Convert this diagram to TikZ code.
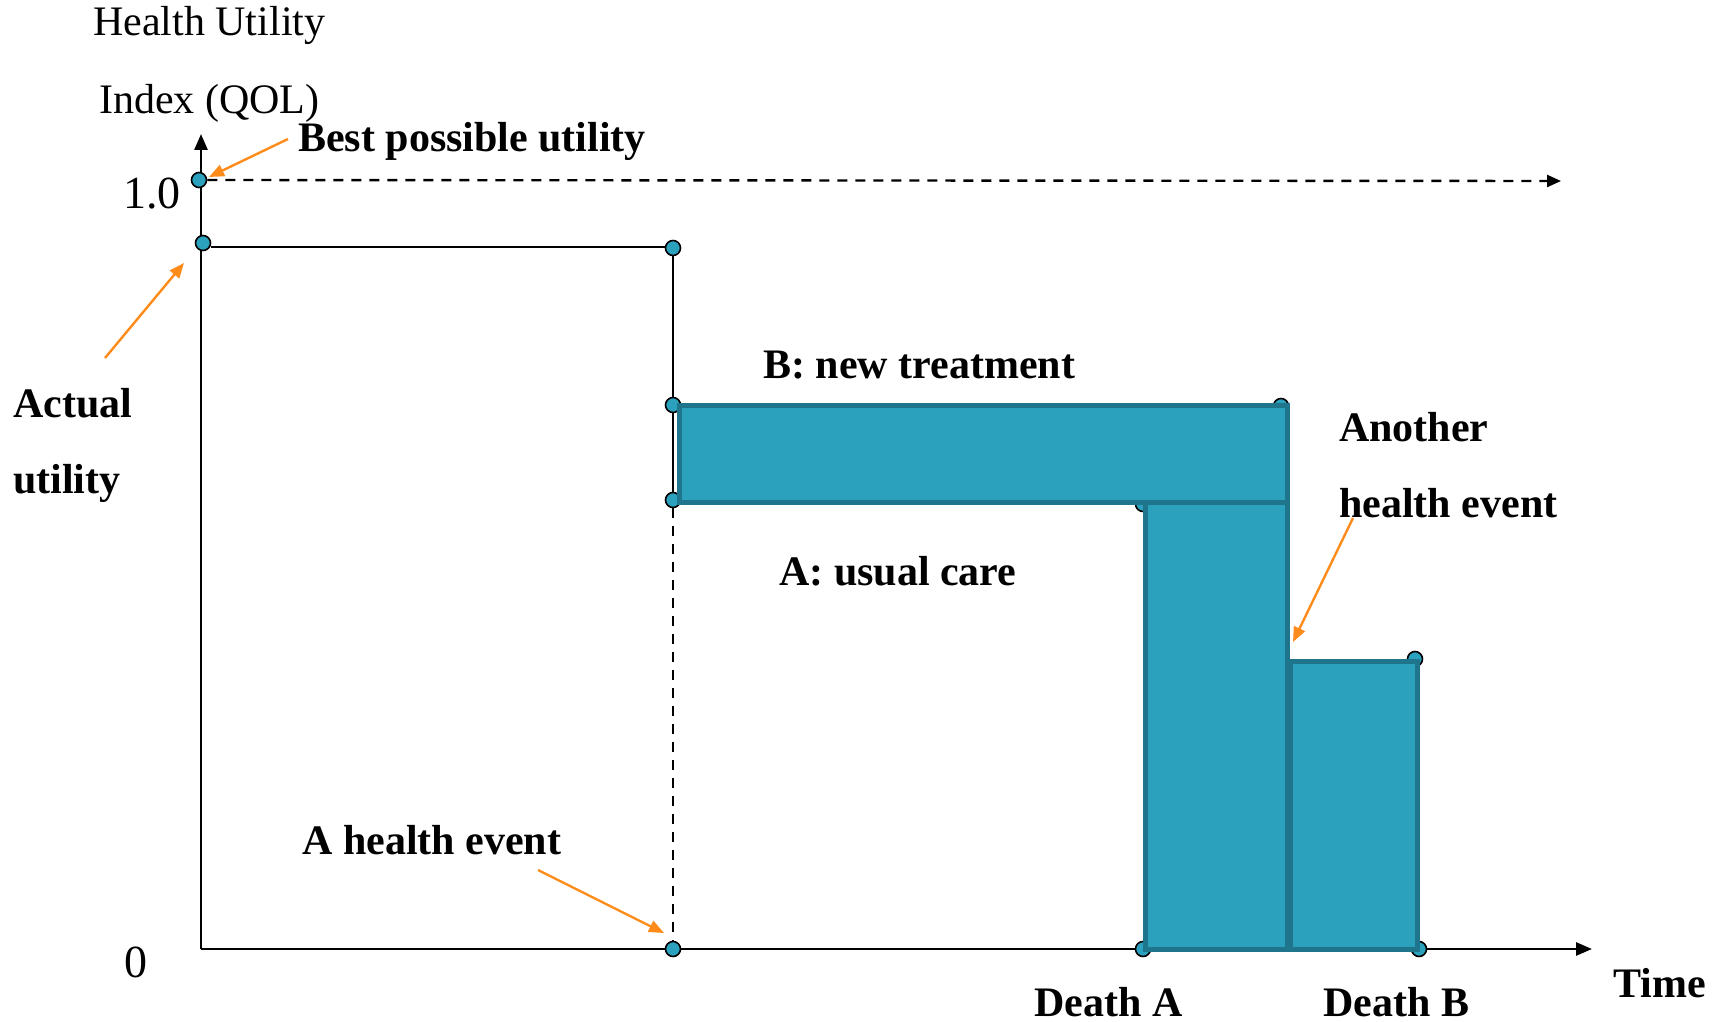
\documentclass[tikz,border=0pt]{standalone}
\usepackage{fontspec}
\setmainfont{Liberation Serif}
\usetikzlibrary{arrows.meta}
\definecolor{barfill}{RGB}{44,161,190}
\definecolor{bardraw}{RGB}{31,118,140}
\definecolor{pointercol}{RGB}{255,140,26}
\begin{document}
\begin{tikzpicture}[x=1pt,y=-1pt,
  dot/.style={circle, draw=black, fill=barfill, line width=1.6pt, inner sep=0pt, minimum size=15pt},
  bar/.style={fill=barfill, draw=bardraw, line width=5pt},
  axis/.style={line width=2.8pt, -{Triangle[length=16pt,width=13pt]}},
  guide/.style={line width=2.6pt},
  dashguide/.style={line width=2.4pt, dash pattern=on 10pt off 8pt},
  pointer/.style={draw=pointercol, line width=2.4pt, -{Triangle[length=15pt,width=12pt]}},
  lbl/.style={font=\fontsize{42}{50}\selectfont\bfseries, anchor=base west, inner sep=0pt},
  plainlbl/.style={font=\fontsize{42}{50}\selectfont, anchor=base west, inner sep=0pt},
  numlbl/.style={font=\fontsize{46}{54}\selectfont, anchor=base west, inner sep=0pt}]
\useasboundingbox[fill=white] (0,0) rectangle (1721,1022);

% coordinates
\coordinate (O) at (201,949);
\coordinate (ytop) at (201,134);
\coordinate (xend) at (1592,949);
\coordinate (dashend) at (1561,181);

% axes
\draw[axis] (O) -- (ytop);
\draw[axis] (O) -- (xend);

% dots
\node[dot] (best) at (199,180) {};
\node[dot] (actual) at (203,243) {};
\node[dot] (eventa) at (673,248) {};
\node[dot] (bhigh) at (673,405) {};
\node[dot] (ahigh) at (673,500) {};
\node[dot] (eventbase) at (673,949) {};
\node[dot] (bend) at (1281,406) {};
\node[dot] (aend) at (1143,504) {};
\node[dot] (deatha) at (1143,949) {};
\node[dot] (bstep) at (1415,659) {};
\node[dot] (deathb) at (1419,949) {};

% utility profile
\draw[dashguide, -{Triangle[length=14pt,width=12pt]}] (best.east) -- (dashend);
\draw[guide] (actual.east |- 0,247) -- (eventa.west |- 0,247);
\draw[guide] (eventa.south) -- (bhigh.north);
\draw[guide] (bhigh.south) -- (ahigh.north);
\draw[dashguide] (ahigh.south) -- (eventbase.north);

% bars
\draw[bar] (1145,502) rectangle (1287,949);
\draw[bar] (1290,661) rectangle (1417,949);
\draw[bar] (679,405) rectangle (1287,502);

% texts
\node[plainlbl] (hu1) at (93,36) {Health Utility};
\node[plainlbl] (hu2) at (99,114) {Index (QOL)};
\node[lbl] (bestlbl) at (298,151) {Best possible utility};
\node[numlbl] (one) at (123,208) {1.0};
\node[numlbl] (zero) at (124,977) {0};
\node[lbl] (act1) at (13,417) {Actual};
\node[lbl] (act2) at (13,493) {utility};
\node[lbl] (blbl) at (763,378) {B: new treatment};
\node[lbl] (albl) at (779,585) {A: usual care};
\node[lbl] (an1) at (1339,441) {Another};
\node[lbl] (an2) at (1339,517) {health event};
\node[lbl] (evlbl) at (302,854) {A health event};
\node[lbl] (dalbl) at (1034,1016) {Death A};
\node[lbl] (dblbl) at (1323,1016) {Death B};
\node[lbl] (timelbl) at (1613,997) {Time};

% orange pointers
\coordinate (p1s) at (288,139);
\coordinate (p1e) at (209,177);
\coordinate (p2s) at (105,358);
\coordinate (p2e) at (184,263);
\coordinate (p3s) at (538,870);
\coordinate (p3e) at (664,933);
\coordinate (p4s) at (1353,518);
\coordinate (p4e) at (1293,642);
\draw[pointer] (p1s) -- (p1e);
\draw[pointer] (p2s) -- (p2e);
\draw[pointer] (p3s) -- (p3e);
\draw[pointer] (p4s) -- (p4e);
\end{tikzpicture}
\end{document}
